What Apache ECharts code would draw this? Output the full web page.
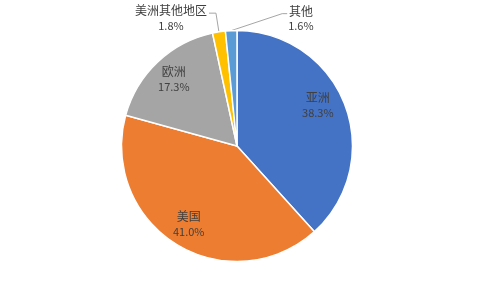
<!DOCTYPE html>
<html><head><meta charset="utf-8">
<script src="https://cdn.jsdelivr.net/npm/echarts@6/dist/echarts.min.js"></script>
<style>html,body{margin:0;padding:0;background:#fff}#c{width:480px;height:294px}</style>
</head><body><div id="c"></div>
<script>
var names = ['亚洲', '美国', '欧洲', '美洲其他地区', '其他'];
var values = [38.3, 41.0, 17.3, 1.8, 1.6];
var colors = ['#4472C4', '#ED7D31', '#A5A5A5', '#FFC000', '#5B9BD5'];
var outside = [false, false, false, true, true];

var chart = echarts.init(document.getElementById('c'), null, {renderer: 'canvas'});
var CX = 237, CY = 146, R = 115.5;
var FF = '"Noto Sans CJK SC", "Noto Sans", sans-serif';
var txt = {
  fontSize: 11, color: '#404040', lineHeight: 15, fontFamily: FF,
  rich: {
    n: {fontSize: 12, color: '#404040', lineHeight: 15, fontFamily: FF},
    v: {fontSize: 11, color: '#404040', lineHeight: 15, fontFamily: FF}
  }
};
function fmt(p){ return '{n|' + p.name + '}\n{v|' + p.value.toFixed(1) + '%}'; }

chart.setOption({
  animation: false,
  backgroundColor: '#fff',
  series: [
    {
      type: 'pie', center: [CX, CY], radius: R, startAngle: 90, clockwise: true,
      avoidLabelOverlap: false,
      itemStyle: {borderColor: '#fff', borderWidth: 1.5},
      emphasis: {disabled: true},
      label: Object.assign({show: false, position: 'outside', formatter: fmt}, txt),
      labelLine: {show: false, length: 19, length2: 7, lineStyle: {color: '#A6A6A6', width: 1}},
      data: names.map(function(n, i){
        return {
          name: n, value: values[i], itemStyle: {color: colors[i]},
          label: {show: outside[i]}, labelLine: {show: outside[i]}
        };
      }),
      labelLayout: function(p){
        var lp = p.labelLinePoints; if (!lp) return;
        var a = lp[0], w = p.labelRect.width;
        if (p.dataIndex === 3) {
          return {x: lp[2][0] - 2 - w / 2, y: lp[2][1] - 10, align: 'center', verticalAlign: 'top', labelLinePoints: lp};
        }
        if (p.dataIndex === 4) {
          var e = [a[0] + 51, a[1] - 17], f = [e[0] + 5, e[1]];
          return {x: f[0] + 1 + w / 2, y: f[1] - 10, align: 'center', verticalAlign: 'top', labelLinePoints: [a, e, f]};
        }
      }
    },
    {
      type: 'pie', center: [CX, CY], radius: [62.5, R], startAngle: 90, clockwise: true,
      silent: true, avoidLabelOverlap: false,
      itemStyle: {color: 'rgba(0,0,0,0)'},
      emphasis: {disabled: true},
      label: Object.assign({show: true, position: 'inside', formatter: fmt}, txt),
      labelLine: {show: false},
      data: names.map(function(n, i){
        return {name: n, value: values[i], label: {show: !outside[i]}};
      }),
      labelLayout: function(p){
        if (p.dataIndex === 0) return {dx: -5, dy: -8};
      }
    }
  ]
});
</script></body></html>
